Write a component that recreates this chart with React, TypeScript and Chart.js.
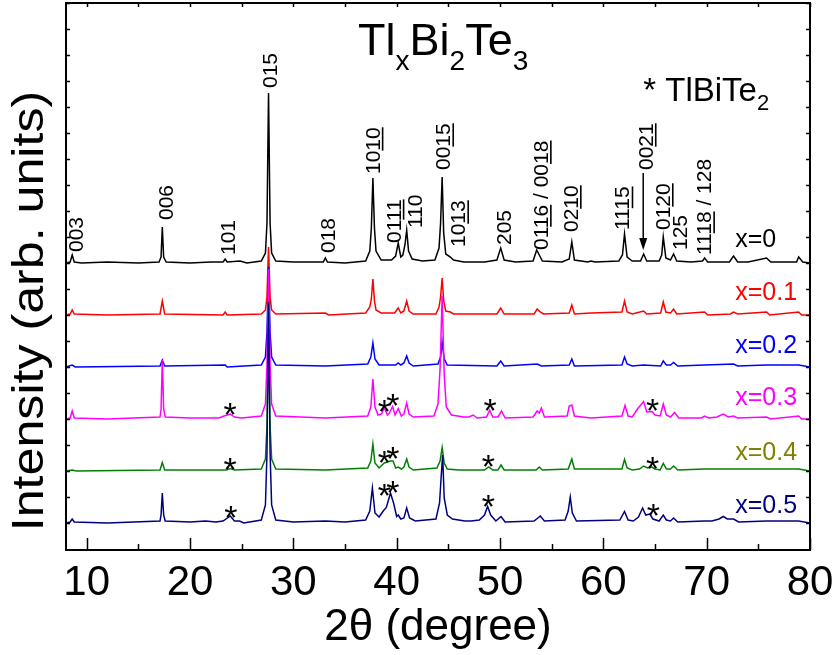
import React, { useEffect, useRef } from "react";
import { Chart, registerables } from "chart.js";
Chart.register(...registerables);

// ---------- axes ----------
const X_MIN = 8;
const X_MAX = 80;
const Y_MIN = -27;
const Y_MAX = 520;
const X_TICKS = [10, 20, 30, 40, 50, 60, 70, 80];
const X_TITLE = "2θ (degree)";
const Y_TITLE = "Intensity (arb. units)";

// ---------- series ----------
const SERIES_NAMES = ["x=0", "x=0.1", "x=0.2", "x=0.3", "x=0.4", "x=0.5"];
const OFFSETS = [260, 208, 156, 104, 52, 0];
const LINE_COLORS = ["#000000", "#ff0000", "#0000ff", "#ff00ff", "#008000", "#000080"];
const LABEL_COLORS = ["#000000", "#ff0000", "#0000ff", "#ff00ff", "#808000", "#000080"];
const LABEL_Y = [276, 223, 170, 118, 63, 10];
const LABEL_ANGLE = 72.76;

// [2theta, intensity above own baseline]
const xrd_x0: [number, number][] = [
  [8.0, 0], [8.4, 1], [8.6, 8], [8.8, 1], [9.5, 0], [12, 1], [15, 0], [17.0, 1], [17.2, 6], [17.32, 36],
  [17.45, 6], [17.7, 1], [20, 0], [22, 1], [23.2, 1], [23.4, 4], [23.6, 1], [24.85, 2], [25.5, 0],
  [26.9, 2], [27.3, 10], [27.45, 40], [27.6, 170], [27.75, 40], [27.9, 10], [28.3, 2], [30, 1],
  [32.9, 1], [33.1, 5], [33.3, 1], [35, 0], [37.0, 2], [37.4, 12], [37.55, 35], [37.7, 85], [37.85, 35],
  [38.0, 12], [38.5, 3], [39.5, 3], [39.9, 7], [40.15, 20], [40.4, 6], [40.6, 8], [40.8, 18], [40.97, 33],
  [41.15, 12], [41.5, 4], [42.5, 2], [43.7, 3], [44.1, 15], [44.25, 40], [44.4, 86], [44.55, 30],
  [44.75, 9], [45.2, 6], [45.5, 3], [46.5, 1], [48.5, 1], [49.7, 3], [50.07, 15], [50.4, 3], [51.5, 1],
  [53.2, 2], [53.55, 13], [53.8, 8], [54.1, 2], [56.0, 1], [56.7, 4], [56.95, 21], [57.2, 3], [58.5, 1],
  [58.8, 2], [59.2, 1], [61.5, 2], [61.85, 8], [62.05, 29], [62.3, 6], [62.8, 2], [63.6, 2], [63.9, 9],
  [64.2, 2], [65.4, 2], [65.65, 8], [65.8, 26], [66.05, 5], [66.5, 3], [66.8, 9], [67.1, 2], [68.5, 1],
  [69.6, 2], [69.8, 5], [70.1, 1], [72.2, 1], [72.6, 7], [73.0, 1], [74, 1], [75.8, 5], [76.2, 1],
  [78.7, 1], [78.9, 6], [79.3, 1], [80, 0],
];
const xrd_x01: [number, number][] = [
  [8, 0], [8.4, 1], [8.6, 5], [8.8, 1], [12, 0], [17.1, 1], [17.32, 14], [17.55, 1], [23.2, 0], [23.4, 3],
  [23.6, 0], [26.9, 1], [27.3, 5], [27.45, 18], [27.6, 68], [27.75, 18], [27.9, 5], [28.3, 1], [33.1, 2],
  [33.4, 0], [37.0, 2], [37.4, 8], [37.55, 16], [37.7, 36], [37.85, 14], [38.0, 5], [38.5, 2], [39.8, 2],
  [40.15, 7], [40.4, 2], [40.7, 4], [40.97, 14], [41.2, 4], [41.6, 1], [43.8, 1], [44.1, 8], [44.25, 18],
  [44.4, 37], [44.55, 14], [44.75, 4], [45.2, 3], [45.5, 1], [49.7, 1], [50.07, 7], [50.4, 1], [53.3, 1],
  [53.6, 6], [53.9, 3], [54.2, 1], [56.7, 2], [56.95, 10], [57.2, 1], [58.8, 2], [61.8, 3], [62.05, 14],
  [62.3, 3], [62.8, 1], [63.9, 4], [64.2, 1], [65.55, 2], [65.8, 13], [66.05, 3], [66.5, 2], [66.8, 6],
  [67.1, 1], [69.8, 3], [70.1, 0], [72.3, 1], [72.6, 3], [73, 1], [75.8, 3], [76.1, 0], [78.9, 3],
  [79.2, 0], [80, 0],
];
const xrd_x02: [number, number][] = [
  [8, 0], [8.6, 2], [8.9, 0], [17.1, 1], [17.32, 7], [17.55, 1], [23.4, 2], [23.6, 0], [26.9, 2],
  [27.3, 10], [27.45, 35], [27.6, 100], [27.75, 35], [27.9, 10], [28.3, 2], [33.1, 1], [37.2, 3],
  [37.5, 10], [37.7, 24], [37.9, 8], [38.3, 2], [39.9, 2], [40.15, 4], [40.4, 2], [40.7, 4], [40.97, 11],
  [41.2, 4], [41.6, 1], [44.0, 3], [44.25, 10], [44.4, 25], [44.6, 8], [44.9, 2], [49.7, 1], [50.07, 6],
  [50.4, 1], [53.6, 3], [54.0, 1], [56.7, 2], [56.95, 8], [57.2, 1], [61.8, 2], [62.05, 10], [62.3, 3],
  [62.8, 1], [63.9, 2], [65.55, 1], [65.8, 6], [66.1, 2], [66.5, 2], [66.8, 4.5], [67.2, 1], [69.8, 2],
  [72.6, 3], [73, 1], [75.8, 2], [78.9, 2], [80, 0],
];
const xrd_x03: [number, number][] = [
  [8, 0], [8.4, 1], [8.6, 8], [8.8, 1], [12, 0], [17.1, 2], [17.2, 10], [17.32, 59], [17.45, 10], [17.6, 2],
  [20, 1], [22.8, 1], [23.3, 3], [23.9, 5], [24.3, 2], [25, 1], [26.9, 3], [27.3, 15], [27.45, 55],
  [27.6, 150], [27.75, 55], [27.9, 15], [28.3, 3], [33.1, 1], [37.2, 3], [37.5, 12], [37.7, 40],
  [37.9, 12], [38.2, 4], [38.55, 5], [38.8, 11.5], [39.1, 4], [39.3, 6], [39.6, 12.5], [39.85, 4],
  [40.15, 10.5], [40.45, 3], [40.7, 5], [40.97, 16], [41.2, 5], [41.6, 2], [43.6, 3], [44.0, 15],
  [44.2, 50], [44.4, 123], [44.6, 45], [44.8, 12], [45.3, 4], [46.5, 2], [47.0, 2], [47.4, 4], [47.8, 1],
  [48.7, 2], [49.0, 9], [49.3, 2], [49.8, 2], [50.15, 8], [50.5, 1], [53.2, 2], [53.6, 8], [53.8, 6],
  [54.0, 11], [54.3, 2], [56.5, 3], [56.7, 13], [56.95, 14], [57.2, 3], [58.8, 1], [61.8, 3], [62.1, 13.5],
  [62.4, 3], [62.8, 2], [63.3, 10], [63.9, 17.5], [64.2, 7], [64.7, 7.5], [65.0, 4], [65.5, 3], [65.8, 15],
  [66.1, 4], [66.5, 2], [66.9, 6.5], [67.3, 1], [69.5, 1], [69.8, 3], [70.2, 1], [71.0, 2], [71.6, 5],
  [72.1, 2], [72.6, 3], [73, 1], [75.8, 2], [76.2, 0], [78.9, 3], [79.2, 0], [80, 0],
];
const xrd_x04: [number, number][] = [
  [8, 0], [8.6, 1], [9, 0], [17.1, 1], [17.32, 8.5], [17.55, 1], [23.5, 1], [23.9, 2.5], [24.3, 1],
  [26.9, 2], [27.3, 12], [27.45, 45], [27.6, 140], [27.75, 45], [27.9, 12], [28.3, 2], [33.1, 1],
  [37.2, 3], [37.5, 10], [37.7, 27], [37.9, 8], [38.3, 3], [38.8, 8], [39.4, 10], [39.65, 10], [39.9, 3],
  [40.15, 4], [40.45, 2], [40.7, 4], [40.97, 12], [41.2, 4], [41.6, 1], [43.9, 3], [44.2, 10], [44.4, 23.5],
  [44.6, 8], [44.9, 2], [46, 1], [47.4, 1], [48.5, 1], [48.9, 4], [49.3, 1], [49.8, 1], [50.1, 6],
  [50.4, 1], [53.5, 1], [53.8, 4], [54.1, 1], [56.6, 2], [56.95, 12], [57.2, 2], [61.8, 2], [62.05, 11.5],
  [62.3, 3], [62.8, 1], [63.5, 2], [63.9, 5], [64.3, 3], [64.7, 4], [65.0, 2], [65.5, 1], [65.8, 7.5],
  [66.1, 2], [66.5, 2], [66.8, 5], [67.2, 1], [69.8, 2], [72.6, 2], [75.8, 2], [78.9, 2], [80, 0],
];
const xrd_x05: [number, number][] = [
  [8, 0], [8.4, 1], [8.6, 4], [8.8, 1], [12, 0], [17.1, 2], [17.2, 8], [17.32, 30], [17.45, 8], [17.6, 2],
  [20, 1], [21.5, 2], [22.5, 1], [23.2, 2], [23.9, 7], [24.3, 2], [24.8, 2], [25.2, 0], [26.9, 3],
  [27.3, 18], [27.45, 70], [27.6, 221], [27.75, 70], [27.9, 18], [28.3, 3], [30, 1], [33.1, 2], [35, 1],
  [37.0, 3], [37.4, 12], [37.65, 35], [37.9, 10], [38.3, 6], [38.7, 12], [39.0, 15.5], [39.4, 30],
  [39.7, 20], [40.0, 6.5], [40.15, 8], [40.4, 4], [40.7, 5], [40.97, 15], [41.25, 5], [41.8, 2],
  [43.8, 4], [44.15, 20], [44.3, 45], [44.45, 68], [44.6, 25], [44.9, 8], [45.4, 4], [46.6, 2], [47.2, 2],
  [48.0, 3], [48.5, 8], [48.8, 16.5], [49.1, 8], [49.6, 2], [50.1, 6.5], [50.5, 1], [53.3, 2], [53.9, 7],
  [54.3, 2], [56.3, 3], [56.6, 12], [56.8, 26], [57.0, 10], [57.4, 2], [61.6, 3], [62.05, 11.5], [62.4, 3],
  [62.9, 2], [63.4, 6], [63.8, 15], [64.1, 8], [64.5, 9], [64.8, 4], [65.4, 2], [65.8, 8], [66.1, 3],
  [66.5, 2], [66.8, 5], [67.2, 1], [69.8, 2], [70.5, 2], [71.2, 4], [71.6, 6.5], [72.0, 4], [72.6, 4],
  [73.1, 1], [75.8, 2], [78.9, 2], [80, 0],
];
const SERIES = [xrd_x0, xrd_x01, xrd_x02, xrd_x03, xrd_x04, xrd_x05];

// ---------- annotations (data coordinates) ----------
type Hkl = { t: string; a: number; y: number; ul?: [number, number][] };
const HKL_LABELS: Hkl[] = [
  { t: "003", a: 8.92, y: 271 },
  { t: "006", a: 17.58, y: 303 },
  { t: "101", a: 23.6, y: 268 },
  { t: "015", a: 27.65, y: 435 },
  { t: "018", a: 33.27, y: 270 },
  { t: "1010", a: 37.62, y: 349, ul: [[2, 4]] },
  { t: "0111", a: 39.65, y: 280, ul: [[2, 4]] },
  { t: "110", a: 41.7, y: 295 },
  { t: "0015", a: 44.45, y: 353, ul: [[2, 4]] },
  { t: "1013", a: 45.9, y: 276, ul: [[2, 4]] },
  { t: "205", a: 50.3, y: 278 },
  { t: "0116 / 0018", a: 53.9, y: 273, ul: [[2, 4], [9, 11]] },
  { t: "0210", a: 56.8, y: 291, ul: [[2, 4]] },
  { t: "1115", a: 61.8, y: 293, ul: [[2, 4]] },
  { t: "0021", a: 64.05, y: 353, ul: [[2, 4]] },
  { t: "0120", a: 65.7, y: 293, ul: [[2, 4]] },
  { t: "125", a: 67.4, y: 273 },
  { t: "1118 / 128", a: 69.7, y: 268, ul: [[2, 4]] },
];
const ARROW_ANGLE = 63.86;
const ARROW_FROM = 350;
const ARROW_TO = 273;
// TlBiTe2 impurity peaks marked with "*": [2theta, y]
const STAR_MARKS: [number, number][] = [
  [23.88, 116], [38.81, 119], [39.63, 125], [49.05, 120], [64.76, 120],
  [23.88, 61], [38.81, 68], [39.63, 72], [48.88, 64], [64.76, 62],
  [23.95, 13], [38.81, 35], [39.63, 38], [48.88, 24], [64.85, 15],
];
const TITLE_POS: [number, number] = [36.27, 468];
const LEGEND_POS: [number, number] = [63.86, 422];
const Y_TITLE_CENTER = 212; // data y at which the y-axis title is centred

const SANS = "'Liberation Sans', Arial, Helvetica, sans-serif";

function drawRich(
  ctx: CanvasRenderingContext2D,
  x: number,
  y: number,
  parts: [string, boolean][],
  size: number,
  subSize: number,
  subDrop: number
) {
  let cx = x;
  ctx.textAlign = "left";
  ctx.textBaseline = "alphabetic";
  for (const [t, sub] of parts) {
    ctx.font = `${sub ? subSize : size}px ${SANS}`;
    ctx.fillText(t, cx, sub ? y + subDrop : y);
    cx += ctx.measureText(t).width;
  }
}

const annotate = {
  id: "annotate",
  afterDraw(chart: any) {
    const { ctx, chartArea: a, scales } = chart;
    const sx = scales.x;
    const sy = scales.y;
    ctx.save();
    ctx.fillStyle = "#000";
    ctx.strokeStyle = "#000";

    // frame
    ctx.lineWidth = 2;
    ctx.strokeRect(a.left, a.top, a.right - a.left, a.bottom - a.top);

    // ticks (inward)
    ctx.lineWidth = 1.5;
    ctx.beginPath();
    for (let v = 10; v <= 80; v += 5) {
      const px = Math.round(sx.getPixelForValue(v)) + 0.5;
      const major = v % 10 === 0;
      ctx.moveTo(px, a.bottom);
      ctx.lineTo(px, a.bottom - (major ? 12 : 6));
      ctx.moveTo(px, a.top);
      ctx.lineTo(px, a.top + 4);
    }
    for (let v = 0; v <= Y_MAX; v += 26) {
      const py = Math.round(sy.getPixelForValue(v)) + 0.5;
      ctx.moveTo(a.left, py);
      ctx.lineTo(a.left + 4, py);
      ctx.moveTo(a.right, py);
      ctx.lineTo(a.right - 4, py);
    }
    ctx.stroke();

    // y-axis title (rotated, slightly stretched along its length)
    ctx.save();
    ctx.translate(31, sy.getPixelForValue(Y_TITLE_CENTER));
    ctx.rotate(-Math.PI / 2);
    ctx.scale(1.14, 1);
    ctx.font = `44px ${SANS}`;
    ctx.textAlign = "center";
    ctx.textBaseline = "middle";
    ctx.fillText(Y_TITLE, 0, 0);
    ctx.restore();

    // hkl labels (rotated, underlined two-digit indices)
    const F = 21;
    ctx.font = `${F}px ${SANS}`;
    for (const l of HKL_LABELS) {
      const px = sx.getPixelForValue(l.a);
      const py = sy.getPixelForValue(l.y);
      ctx.save();
      ctx.translate(px, py);
      ctx.rotate(-Math.PI / 2);
      ctx.textAlign = "left";
      ctx.textBaseline = "alphabetic";
      ctx.fillText(l.t, 0, 0.36 * F);
      if (l.ul) {
        ctx.lineWidth = 1.6;
        ctx.beginPath();
        for (const [s, e] of l.ul) {
          const x0 = ctx.measureText(l.t.slice(0, s)).width;
          const x1 = ctx.measureText(l.t.slice(0, e)).width;
          ctx.moveTo(x0, 0.36 * F + 3);
          ctx.lineTo(x1, 0.36 * F + 3);
        }
        ctx.stroke();
      }
      ctx.restore();
    }

    // arrow for 0021
    {
      const ax = sx.getPixelForValue(ARROW_ANGLE);
      const y0 = sy.getPixelForValue(ARROW_FROM);
      const y1 = sy.getPixelForValue(ARROW_TO);
      ctx.lineWidth = 1.5;
      ctx.beginPath();
      ctx.moveTo(ax, y0);
      ctx.lineTo(ax, y1 - 10);
      ctx.stroke();
      ctx.beginPath();
      ctx.moveTo(ax - 4, y1 - 12);
      ctx.lineTo(ax + 4, y1 - 12);
      ctx.lineTo(ax, y1);
      ctx.closePath();
      ctx.fill();
    }

    // stars
    const SF = 34;
    ctx.font = `${SF}px ${SANS}`;
    ctx.textAlign = "center";
    ctx.textBaseline = "alphabetic";
    for (const [ang, v] of STAR_MARKS) {
      ctx.fillText("*", sx.getPixelForValue(ang), sy.getPixelForValue(v) + 0.57 * SF);
    }

    // series labels
    ctx.font = `25px ${SANS}`;
    ctx.textAlign = "left";
    SERIES_NAMES.forEach((n, i) => {
      ctx.fillStyle = LABEL_COLORS[i];
      ctx.fillText(n, sx.getPixelForValue(LABEL_ANGLE), sy.getPixelForValue(LABEL_Y[i]));
    });

    // title and legend note
    ctx.fillStyle = "#000";
    drawRich(
      ctx,
      sx.getPixelForValue(TITLE_POS[0]),
      sy.getPixelForValue(TITLE_POS[1]),
      [["Tl", false], ["x", true], ["Bi", false], ["2", true], ["Te", false], ["3", true]],
      45,
      28,
      15
    );
    drawRich(
      ctx,
      sx.getPixelForValue(LEGEND_POS[0]),
      sy.getPixelForValue(LEGEND_POS[1]),
      [["* TlBiTe", false], ["2", true]],
      33,
      22,
      9
    );
    ctx.restore();
  },
};

export default function App() {
  const ref = useRef<HTMLCanvasElement | null>(null);
  useEffect(() => {
    if (!ref.current) return;
    const datasets = SERIES.map((pts, i) => ({
      label: SERIES_NAMES[i],
      data: pts.map(([a, v]) => ({ x: a, y: v + OFFSETS[i] })),
      borderColor: LINE_COLORS[i],
      borderWidth: 1.5,
      pointRadius: 0,
      fill: false,
      tension: 0,
      order: SERIES.length - 1 - i,
    }));
    const chart = new Chart(ref.current, {
      type: "line",
      data: { datasets },
      options: {
        animation: false,
        responsive: false,
        layout: { padding: { top: 3, right: 25, left: 0, bottom: 0 } },
        plugins: { legend: { display: false }, tooltip: { enabled: false } },
        scales: {
          x: {
            type: "linear",
            min: X_MIN,
            max: X_MAX,
            afterFit: (s: any) => {
              s.height = 105;
              s.paddingLeft = 0;
              s.paddingRight = 0;
            },
            afterBuildTicks: (s: any) => {
              s.ticks = X_TICKS.map((v) => ({ value: v }));
            },
            grid: { display: false, drawTicks: false },
            border: { display: false },
            ticks: {
              autoSkip: false,
              maxRotation: 0,
              color: "#000",
              padding: 8,
              font: { family: SANS, size: 42 },
            },
            title: {
              display: true,
              text: X_TITLE,
              color: "#000",
              padding: { top: 0, bottom: 1 },
              font: { family: SANS, size: 44 },
            },
          },
          y: {
            type: "linear",
            min: Y_MIN,
            max: Y_MAX,
            afterFit: (s: any) => {
              s.width = 66;
            },
            grid: { display: false, drawTicks: false },
            border: { display: false },
            ticks: { display: false },
            title: { display: false, text: Y_TITLE },
          },
        },
      },
      plugins: [annotate],
    } as any);
    return () => chart.destroy();
  }, []);
  return (
    <div style={{ position: "fixed", left: 0, top: 0, width: 835, height: 655, background: "#fff" }}>
      <canvas ref={ref} width={835} height={655} style={{ width: 835, height: 655 }} />
    </div>
  );
}
